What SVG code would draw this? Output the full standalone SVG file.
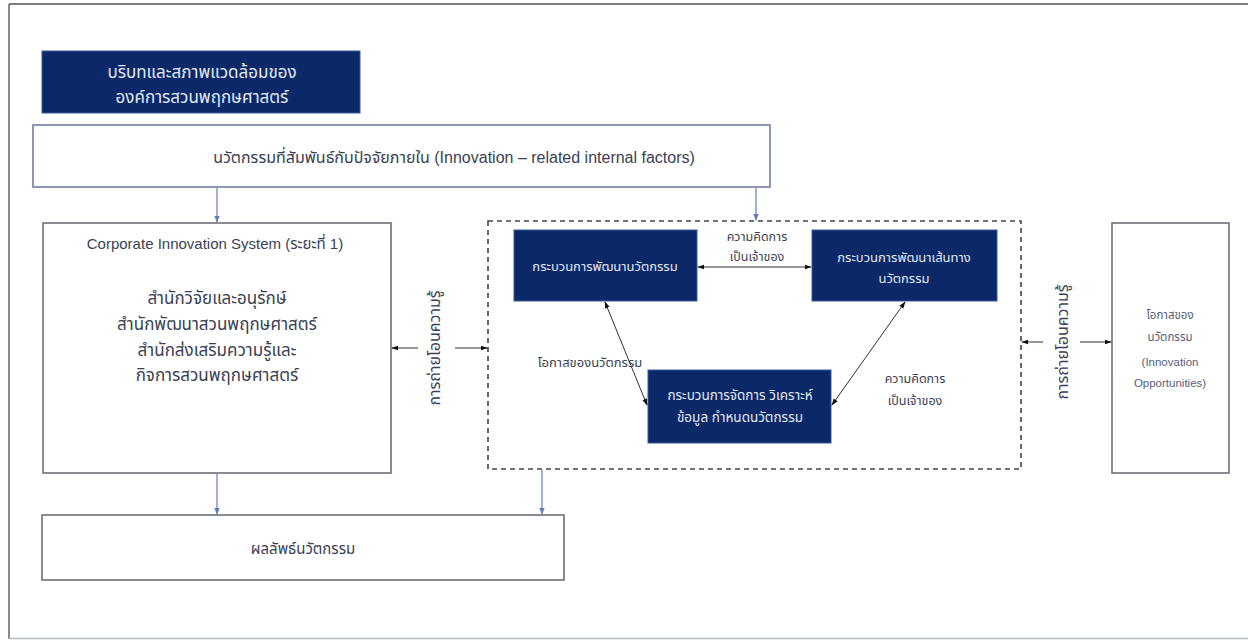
<svg xmlns="http://www.w3.org/2000/svg" width="1248" height="640" viewBox="0 0 1248 640">
<style>
text{font-family:"Liberation Sans","Noto Sans Thai","Noto Sans",sans-serif;fill:#3a3f55;text-anchor:middle;dominant-baseline:central}
.box{fill:#fff;stroke:#6e7078;stroke-width:1.6}
.tbox{fill:#fff;stroke:#8a98b4;stroke-width:2}
.dark{fill:#0b2869;stroke:#3a5a9a;stroke-width:1}
.dt{fill:#e4e8f4;font-size:13px}
.lbl{font-size:12.5px}
.op{font-size:11.5px;fill:#55607a}
.blue{stroke:#5f7fb5;stroke-width:1.2;fill:none}
.blk{stroke:#333;stroke-width:1;fill:none}
</style>
<defs>
<marker id="ab" viewBox="0 0 10 10" refX="9" refY="5" markerWidth="6" markerHeight="6" orient="auto-start-reverse"><path d="M0,1 L10,5 L0,9 z" fill="#5f7fb5"/></marker>
<marker id="ak" viewBox="0 0 10 10" refX="9" refY="5" markerWidth="7" markerHeight="7" orient="auto-start-reverse"><path d="M0,1.5 L10,5 L0,8.5 z" fill="#111"/></marker>
</defs>
<rect width="1248" height="640" fill="#fff"/>
<g id="frame">
<line x1="9" y1="4" x2="1248" y2="4" stroke="#555" stroke-width="1.5"/>
<line x1="9" y1="4" x2="9" y2="639" stroke="#666" stroke-width="1.5"/>
<line x1="9" y1="638.5" x2="1248" y2="638.5" stroke="#b4bcc6" stroke-width="1.5"/>
</g>
<g id="context">
<rect class="dark" x="42" y="51" width="318" height="62"/>
<text class="dt" x="202" y="72" style="font-size:17px">บริบทและสภาพแวดล้อมของ</text>
<text class="dt" x="202" y="97" style="font-size:17px">องค์การสวนพฤกษศาสตร์</text>
</g>
<g id="internal">
<rect class="tbox" x="33" y="125" width="737" height="62"/>
<text x="454" y="157" font-size="16">นวัตกรรมที่สัมพันธ์กับปัจจัยภายใน (Innovation – related internal factors)</text>
</g>
<g id="cis">
<rect class="box" x="43" y="223" width="348" height="250"/>
<text x="215" y="243" font-size="15">Corporate Innovation System (ระยะที่ 1)</text>
<text x="217" y="298" font-size="17">สำนักวิจัยและอนุรักษ์</text>
<text x="217" y="324" font-size="17">สำนักพัฒนาสวนพฤกษศาสตร์</text>
<text x="217" y="350" font-size="17">สำนักส่งเสริมความรู้และ</text>
<text x="217" y="375" font-size="17">กิจการสวนพฤกษศาสตร์</text>
</g>
<g id="process-group">
<rect x="488" y="221" width="533" height="248" fill="none" stroke="#444" stroke-width="1.6" stroke-dasharray="5 4"/>
</g>
<g id="proc-a">
<rect class="dark" x="514" y="230" width="183" height="71"/>
<text class="dt" x="605" y="266">กระบวนการพัฒนานวัตกรรม</text>
</g>
<g id="proc-b">
<rect class="dark" x="812" y="230" width="185" height="71"/>
<text class="dt" x="904" y="257">กระบวนการพัฒนาเส้นทาง</text>
<text class="dt" x="904" y="278">นวัตกรรม</text>
</g>
<g id="proc-c">
<rect class="dark" x="648" y="370" width="183" height="73"/>
<text class="dt" x="740" y="395" style="font-size:13.5px">กระบวนการจัดการ วิเคราะห์</text>
<text class="dt" x="740" y="417" style="font-size:13.5px">ข้อมูล กำหนดนวัตกรรม</text>
</g>
<g id="opportunities">
<rect class="box" x="1112" y="223" width="117" height="250"/>
<text class="op" x="1170" y="315">โอกาสของ</text>
<text class="op" x="1170" y="337">นวัตกรรม</text>
<text class="op" x="1170" y="362">(Innovation</text>
<text class="op" x="1170" y="383">Opportunities)</text>
</g>
<g id="outcome">
<rect class="box" x="42" y="515" width="522" height="65"/>
<text x="303" y="548" font-size="15">ผลลัพธ์นวัตกรรม</text>
</g>
<g id="connectors">
<line class="blue" x1="217" y1="188" x2="217" y2="222" marker-end="url(#ab)"/>
<line class="blue" x1="756" y1="188" x2="756" y2="220" marker-end="url(#ab)"/>
<line class="blue" x1="217" y1="474" x2="217" y2="514" marker-end="url(#ab)"/>
<line class="blue" x1="542" y1="470" x2="542" y2="514" marker-end="url(#ab)"/>
<line class="blk" x1="418" y1="348" x2="392" y2="348" marker-end="url(#ak)"/>
<line class="blk" x1="455" y1="348" x2="487" y2="348" marker-end="url(#ak)"/>
<line class="blk" x1="1043" y1="342" x2="1022" y2="342" marker-end="url(#ak)"/>
<line class="blk" x1="1080" y1="342" x2="1111" y2="342" marker-end="url(#ak)"/>
<line class="blk" x1="698" y1="267" x2="811" y2="267" marker-start="url(#ak)" marker-end="url(#ak)"/>
<line class="blk" x1="605" y1="302" x2="647" y2="405" marker-start="url(#ak)" marker-end="url(#ak)"/>
<line class="blk" x1="905" y1="302" x2="832" y2="405" marker-start="url(#ak)" marker-end="url(#ak)"/>
</g>
<g id="labels">
<text x="434" y="348" font-size="16" transform="rotate(-90 434 348)">การถ่ายโอนความรู้</text>
<text x="1062" y="342" font-size="16" transform="rotate(-90 1062 342)">การถ่ายโอนความรู้</text>
<text class="lbl" x="757" y="237">ความคิดการ</text>
<text class="lbl" x="757" y="257">เป็นเจ้าของ</text>
<text class="lbl" x="590" y="362" style="font-size:13px">โอกาสของนวัตกรรม</text>
<text class="lbl" x="915" y="379">ความคิดการ</text>
<text class="lbl" x="915" y="401">เป็นเจ้าของ</text>
</g>
</svg>
